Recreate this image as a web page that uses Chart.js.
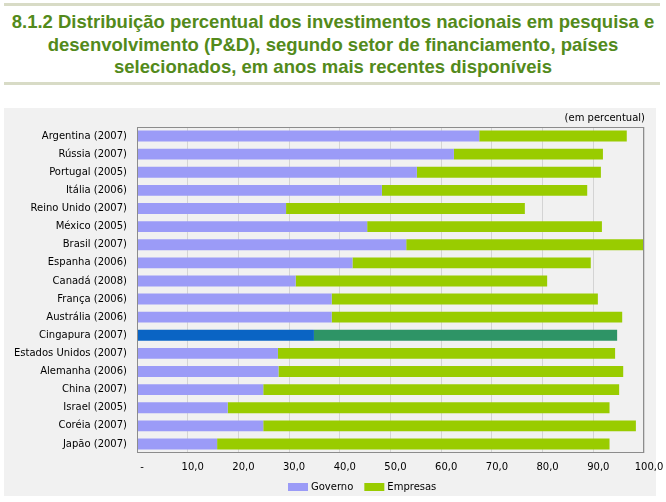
<!DOCTYPE html>
<html>
<head>
<meta charset="utf-8">
<script src="https://cdn.jsdelivr.net/npm/chart.js@4.4.1/dist/chart.umd.min.js"></script>
<style>
  html, body { margin: 0; padding: 0; background: #fff; }
  body { width: 666px; height: 502px; position: relative; overflow: hidden; }
  .rule { position: absolute; left: 4px; width: 656px; height: 3px; background: #d8dbc6; }
  #title {
    position: absolute; left: 0; top: 11px; width: 666px;
    text-align: center; color: #538a1b;
    font: bold 18.5px "Liberation Sans", Arial, sans-serif; line-height: 22.5px;
  }
  #panel { position: absolute; left: 4px; top: 108px; width: 652px; height: 388px; background: #f1f1f1; }
  #chart { position: absolute; left: 4px; top: 108px; }
</style>
</head>
<body>
<div class="rule" style="top:3px"></div>
<div id="title">8.1.2 Distribuição percentual dos investimentos nacionais em pesquisa e<br>desenvolvimento (P&amp;D), segundo setor de financiamento, países<br>selecionados, em anos mais recentes disponíveis</div>
<div class="rule" style="top:82px"></div>
<div id="panel"></div>
<canvas id="chart" width="662" height="388"></canvas>
<script>
const categories = [
  'Argentina (2007)', 'Rússia (2007)', 'Portugal (2005)', 'Itália (2006)',
  'Reino Unido (2007)', 'México (2005)', 'Brasil (2007)', 'Espanha (2006)',
  'Canadá (2008)', 'França (2006)', 'Austrália (2006)', 'Cingapura (2007)',
  'Estados Unidos (2007)', 'Alemanha (2006)', 'China (2007)', 'Israel (2005)',
  'Coréia (2007)', 'Japão (2007)'
];
const governo = [67.5, 62.5, 55.2, 48.3, 29.4, 45.4, 53.1, 42.5, 31.3, 38.4, 38.4, 34.9, 27.8, 27.9, 24.9, 17.9, 24.9, 15.8];
const empresas = [29.1, 29.4, 36.3, 40.5, 47.1, 46.3, 46.8, 47.0, 49.6, 52.5, 57.3, 59.8, 66.5, 68.0, 70.2, 75.3, 73.5, 77.4];
const xTicks = [0, 10, 20, 30, 40, 50, 60, 70, 80, 90, 100];
const highlight = 'Cingapura (2007)';

const fontFamily = '"DejaVu Sans", Verdana, sans-serif';
const seriesColors = ['#9b9bf7', '#99cc00'];
const highlightColors = ['#0a64c4', '#2e9466'];

// Cingapura gets its own colours
function colors(i) {
  return categories.map(c => c === highlight ? highlightColors[i] : seriesColors[i]);
}

// "(em percentual)" above the plot, right side
const unitLabel = {
  id: 'unitLabel',
  afterDraw(chart) {
    const ctx = chart.ctx;
    ctx.save();
    ctx.font = '10px ' + fontFamily;
    ctx.fillStyle = '#000';
    ctx.textAlign = 'right';
    ctx.textBaseline = 'middle';
    ctx.fillText('(em percentual)', chart.chartArea.right + 1, chart.chartArea.top - 9);
    ctx.restore();
  }
};

// plot border drawn on top
const plotBorder = {
  id: 'plotBorder',
  afterDatasetsDraw(chart) {
    const a = chart.chartArea;
    const ctx = chart.ctx;
    ctx.save();
    ctx.strokeStyle = '#8c8c8c';
    ctx.lineWidth = 1;
    ctx.strokeRect(Math.round(a.left) + 0.5, Math.round(a.top) + 0.5, Math.round(a.width) - 1, Math.round(a.height) - 1);
    ctx.restore();
  }
};

// simple legend under the axis, built from the datasets
const bottomLegend = {
  id: 'bottomLegend',
  afterDraw(chart) {
    const ctx = chart.ctx;
    const boxW = 20, boxH = 8, textGap = 3, itemGap = 11;
    ctx.save();
    ctx.font = '10px ' + fontFamily;
    ctx.textBaseline = 'middle';
    ctx.textAlign = 'left';
    const items = chart.data.datasets.map((ds, i) => ({
      text: ds.label, color: seriesColors[i], w: boxW + textGap + ctx.measureText(ds.label).width
    }));
    const total = items.reduce((s, it) => s + it.w, 0) + itemGap * (items.length - 1);
    let x = Math.round(358 - total / 2);
    const y = chart.chartArea.bottom + 34;
    items.forEach(it => {
      ctx.fillStyle = it.color;
      ctx.fillRect(x, y - boxH / 2, boxW, boxH);
      ctx.fillStyle = '#000';
      ctx.fillText(it.text, x + boxW + textGap, y);
      x += it.w + itemGap;
    });
    ctx.restore();
  }
};

new Chart(document.getElementById('chart'), {
  type: 'bar',
  data: {
    labels: categories,
    datasets: [{
      label: 'Governo',
      data: governo,
      backgroundColor: colors(0),
      barPercentage: 0.6,
      categoryPercentage: 1
    }, {
      label: 'Empresas',
      data: empresas,
      backgroundColor: colors(1),
      barPercentage: 0.6,
      categoryPercentage: 1
    }]
  },
  options: {
    indexAxis: 'y',
    responsive: false,
    animation: false,
    layout: {
      padding: { left: 0, right: 22, top: 19, bottom: 0 }
    },
    plugins: {
      legend: { display: false },
      tooltip: { enabled: false }
    },
    scales: {
      x: {
        stacked: true,
        min: 0,
        max: 100,
        afterBuildTicks: function (scale) {
          scale.ticks = xTicks.map(v => ({ value: v }));
        },
        afterFit: function (scale) {
          scale.height = 43;
          scale.paddingLeft = 0;
          scale.paddingRight = 0;
        },
        ticks: {
          font: { family: fontFamily, size: 10 },
          color: '#000',
          maxRotation: 0,
          padding: 8,
          labelOffset: 5,
          callback: function (value) {
            return value === 0 ? '-' : value.toFixed(1).replace('.', ',');
          }
        },
        grid: { color: '#d4d4d4', drawTicks: false },
        border: { display: false }
      },
      y: {
        stacked: true,
        afterFit: function (scale) {
          scale.width = 133;
          scale.paddingTop = 0;
          scale.paddingBottom = 0;
        },
        ticks: {
          font: { family: fontFamily, size: 10 },
          color: '#000',
          padding: 2
        },
        grid: { display: false },
        border: { display: false }
      }
    }
  },
  plugins: [unitLabel, plotBorder, bottomLegend]
});
</script>
</body>
</html>
